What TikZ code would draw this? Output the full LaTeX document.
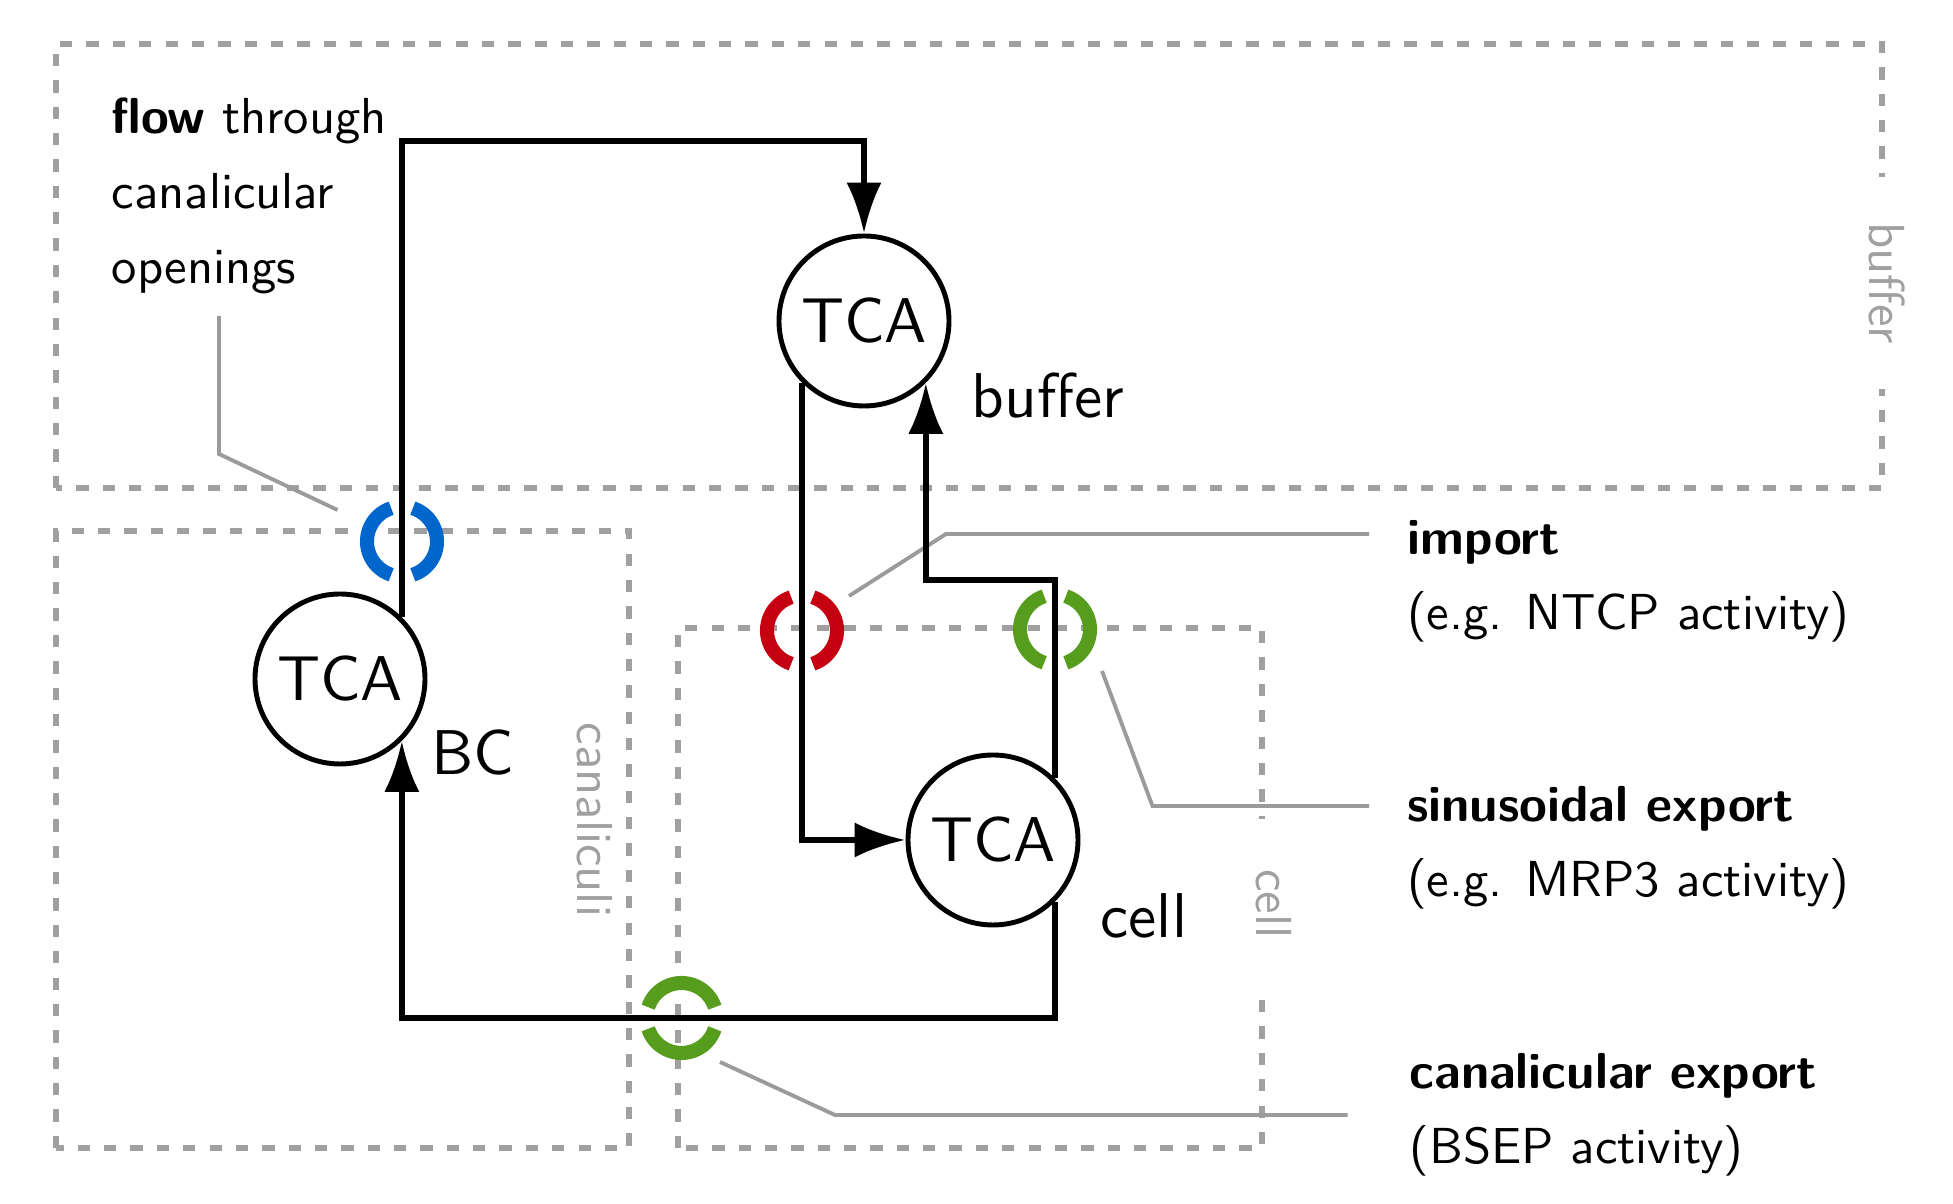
\documentclass[tikz,border=0pt]{standalone}
\usepackage{fontspec}
\setsansfont{lmsans10-regular.otf}[BoldFont=lmsans10-bold.otf]
\usepackage{tikz}
\usetikzlibrary{arrows.meta}

\definecolor{zonegray}{RGB}{160,160,160}
\definecolor{leadgray}{RGB}{155,155,155}
\definecolor{ntcpred}{RGB}{197,0,17}
\definecolor{exportgreen}{RGB}{87,157,29}
\definecolor{openblue}{RGB}{0,102,204}

\begin{document}
\begin{tikzpicture}[
  tca/.style={circle, draw, line width=1.4pt, minimum size=1.70cm, inner sep=0pt, font=\sffamily\fontsize{18}{21}\selectfont},
  big/.style={anchor=base west, inner sep=0pt, font=\sffamily\fontsize{18}{21}\selectfont},
  note/.style={anchor=north west, inner sep=0pt, align=left, font=\sffamily\fontsize{14.4}{21.3}\selectfont},
  zone/.style={draw=zonegray, line width=1.7pt, dash pattern=on 3.5pt off 4pt},
  zonelabel/.style={text=zonegray, rotate=-90, font=\sffamily\fontsize{14.4}{17}\selectfont},
  flow/.style={line width=1.7pt, -{Latex[length=14.5pt,width=10pt]}},
  callout/.style={draw=leadgray, line width=1.1pt},
  channel/.pic={
    \draw[line width=4pt] (108:0.35) arc[start angle=108, end angle=252, radius=0.35];
    \draw[line width=4pt] (-72:0.35) arc[start angle=-72, end angle=72, radius=0.35];
  }]
\useasboundingbox (0,0) rectangle (19.53,12.04);

% compartments
\draw[zone] (0.56,7.16) rectangle (18.82,11.60);
\draw[zone] (0.56,0.56) rectangle (6.29,6.73);
\draw[zone] (6.78,0.56) rectangle (12.62,5.76);
\node[zonelabel, fill=white, inner xsep=0.45cm] (bufferZone) at (18.87,9.21) {buffer};
\node[zonelabel] (canaliculiZone) at (5.945,3.84) {canaliculi};
\node[zonelabel, fill=white, inner xsep=0.5cm] (cellZone) at (12.74,3.00) {cell};

% pools
\node[tca] (tcaBuf) at (8.64,8.83) {TCA};
\node[tca] (tcaBC) at (3.40,5.25) {TCA};
\node[tca] (tcaCell) at (9.93,3.64) {TCA};
\node[big] (bufferText) at (9.71,7.865) {buffer};
\node[big] (bcText) at (4.31,4.29) {BC};
\node[big] (cellText) at (11.00,2.665) {cell};

% notes
\node[note] (flowNote) at (1.11,11.065) {\textbf{flow} through\\canalicular\\openings};
\node[note] (importNote) at (14.065,6.845) {\textbf{import}\\(e.g. NTCP activity)};
\node[note] (sinNote) at (14.065,4.185) {\textbf{sinusoidal export}\\(e.g. MRP3 activity)};
\node[note] (canNote) at (14.09,1.515) {\textbf{canalicular export}\\(BSEP activity)};

% callouts
\coordinate (flowLead) at (2.19,8.88);
\coordinate (flowBend) at (2.19,7.50);
\coordinate (flowEnd) at (3.375,6.94);
\coordinate (importLead) at (13.69,6.70);
\coordinate (importBend) at (9.46,6.70);
\coordinate (importEnd) at (8.49,6.08);
\coordinate (sinLead) at (13.69,3.98);
\coordinate (sinBend) at (11.525,3.98);
\coordinate (sinEnd) at (11.02,5.33);
\coordinate (canLead) at (13.475,0.89);
\coordinate (canBend) at (8.35,0.89);
\coordinate (canEnd) at (7.20,1.42);
\draw[callout] (flowLead) -- (flowBend) -- (flowEnd);
\draw[callout] (importLead) -- (importBend) -- (importEnd);
\draw[callout] (sinLead) -- (sinBend) -- (sinEnd);
\draw[callout] (canLead) -- (canBend) -- (canEnd);

% fluxes
\coordinate (loopTop) at (0,10.63);
\coordinate (sinTurn) at (0,6.24);
\coordinate (canTurn) at (0,1.86);
\draw[flow] (tcaBC.north east) -- (tcaBC.north east |- loopTop) -| (tcaBuf.north);
\draw[flow] (tcaBuf.south west) |- (tcaCell.west);
\draw[flow] (tcaCell.north east) |- (sinTurn -| tcaBuf.south east) -- (tcaBuf.south east);
\draw[flow] (tcaCell.south east) |- (canTurn -| tcaBC.south east) -- (tcaBC.south east);

% transporters
\pic[color=openblue] (opening) at (4.02,6.625) {channel};
\pic[color=ntcpred] (ntcp) at (8.02,5.735) {channel};
\pic[color=exportgreen] (mrp) at (10.55,5.745) {channel};
\pic[color=exportgreen, rotate=90] (bsep) at (6.815,1.86) {channel};
\end{tikzpicture}
\end{document}
